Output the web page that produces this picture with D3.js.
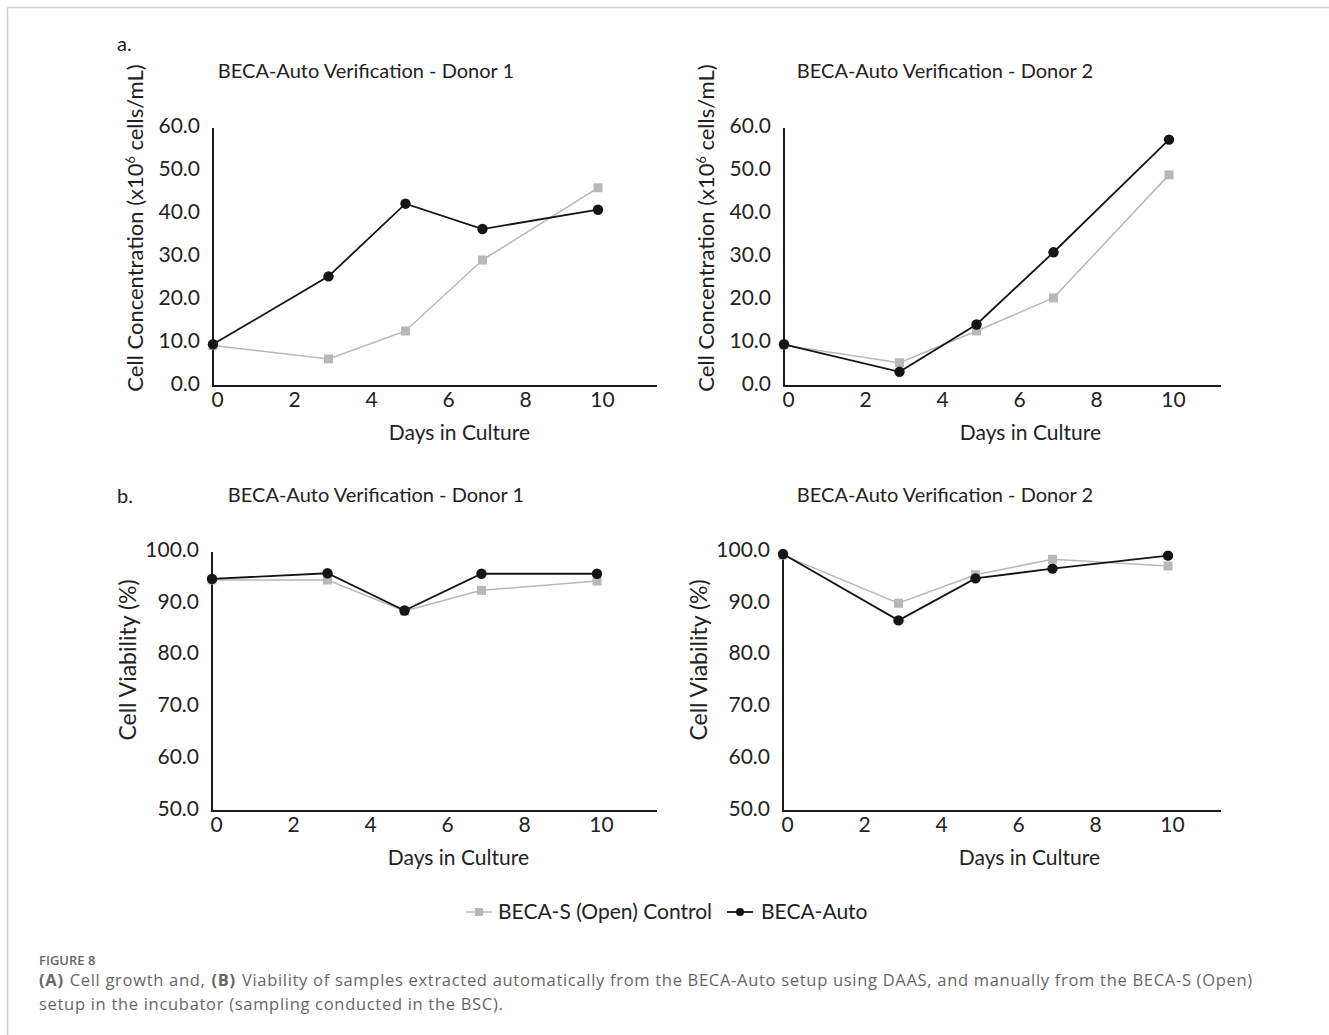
<!DOCTYPE html>
<html>
<head>
<meta charset="utf-8">
<script src="https://cdn.jsdelivr.net/npm/d3@7"></script>
<style>
  body { margin: 0; background: #fff; }
  svg { display: block; }
  text { font-family: Lato, "Open Sans", sans-serif; fill: #222; }
  .caption { font-family: "Open Sans", Lato, sans-serif; fill: #666; }
</style>
</head>
<body>
<svg width="1329" height="1035"></svg>
<script>
const days = [0, 3, 5, 7, 10];
const xTicks = [0, 2, 4, 6, 8, 10];
const concTicks = [0, 10, 20, 30, 40, 50, 60];
const viaTicks = [50, 60, 70, 80, 90, 100];

// cell concentration (x10^6 cells/mL)
const conc1Control = [9.4, 6.3, 12.8, 29.3, 46.1];
const conc1Auto = [9.7, 25.5, 42.4, 36.5, 41.0];
const conc2Control = [9.5, 5.4, 12.8, 20.5, 49.1];
const conc2Auto = [9.7, 3.3, 14.3, 31.1, 57.3];

// cell viability (%)
const via1Control = [94.6, 94.6, 88.6, 92.6, 94.4];
const via1Auto = [94.8, 95.9, 88.7, 95.8, 95.8];
const via2Control = [99.4, 90.1, 95.6, 98.6, 97.3];
const via2Auto = [99.6, 86.8, 94.9, 96.8, 99.3];

const seriesNames = ["BECA-S (Open) Control", "BECA-Auto"];
const grey = "#b8b8b8", black = "#151515";

const svg = d3.select("svg");

// frame lines (top and left)
svg.append("line").attr("x1", 7.5).attr("x2", 1329).attr("y1", 7.5).attr("y2", 7.5)
    .attr("stroke", "#d0d0d0").attr("stroke-width", 1.5);
svg.append("line").attr("x1", 7.5).attr("x2", 7.5).attr("y1", 7.5).attr("y2", 1035)
    .attr("stroke", "#d0d0d0").attr("stroke-width", 1.5);

function drawPanel(p) {
    const x = d3.scaleLinear().domain([0, 10]).range([p.left, p.left + 385]);
    const y = d3.scaleLinear().domain(p.domain).range([p.bottom, p.top]);
    const g = svg.append("g");

    g.append("text")
        .attr("x", p.titleX).attr("y", p.top - 50)
        .attr("text-anchor", "middle")
        .attr("font-size", 20)
        .text("BECA-Auto Verification - Donor " + p.donor);

    // y tick labels
    const yAxis = g.append("g")
        .attr("transform", `translate(${p.left - 1},0)`)
        .call(d3.axisLeft(y).tickValues(p.ticks).tickFormat(d3.format(".1f")).tickSize(0).tickPadding(12));
    yAxis.select(".domain").remove();
    yAxis.selectAll("text").attr("font-size", 21).attr("dy", "0.2em")
        .style("font-family", "Lato, sans-serif").attr("fill", "#222");

    const xAxis = g.append("g")
        .attr("transform", `translate(4,${p.bottom})`)
        .call(d3.axisBottom(x).tickValues(xTicks).tickSize(0).tickPadding(6));
    xAxis.select(".domain").remove();
    xAxis.selectAll("text").attr("font-size", 21)
        .style("font-family", "Lato, sans-serif").attr("fill", "#222");

    // axis lines
    g.append("line").attr("x1", p.left).attr("x2", p.left).attr("y1", p.top).attr("y2", p.bottom)
        .attr("stroke", "#1a1a1a").attr("stroke-width", 2);
    g.append("line").attr("x1", p.left - 1).attr("x2", p.right).attr("y1", p.bottom).attr("y2", p.bottom)
        .attr("stroke", "#1a1a1a").attr("stroke-width", 2);

    g.append("text")
        .attr("x", x(6.4)).attr("y", p.bottom + 54)
        .attr("text-anchor", "middle").attr("font-size", 21)
        .text("Days in Culture");

    if (p.ylabel) {
        g.append("text")
            .attr("transform", `translate(${p.ylabelX},${p.ylabelY}) rotate(-90)`)
            .attr("text-anchor", "middle").attr("font-size", 23)
            .text(p.ylabel);
    }

    const line = d3.line().x((d, i) => x(days[i])).y(d => y(d));

    g.append("path").datum(p.control).attr("d", line)
        .attr("fill", "none").attr("stroke", grey).attr("stroke-width", 1.5);
    g.selectAll(".sq").data(p.control).enter().append("rect")
        .attr("x", (d, i) => x(days[i]) - 4.5).attr("y", d => y(d) - 4.5)
        .attr("width", 9).attr("height", 9).attr("fill", grey);

    g.append("path").datum(p.auto).attr("d", line)
        .attr("fill", "none").attr("stroke", black).attr("stroke-width", 1.8);
    g.selectAll(".dot").data(p.auto).enter().append("circle")
        .attr("cx", (d, i) => x(days[i])).attr("cy", d => y(d))
        .attr("r", 5.2).attr("fill", black);
}

drawPanel({ donor: 1, left: 213, top: 128, bottom: 386, right: 657, titleX: 366,
    domain: [0, 60], ticks: concTicks, control: conc1Control, auto: conc1Auto });
drawPanel({ donor: 2, left: 784, top: 128, bottom: 386, right: 1221, titleX: 945,
    domain: [0, 60], ticks: concTicks, control: conc2Control, auto: conc2Auto });
drawPanel({ donor: 1, left: 212, top: 552, bottom: 811, right: 657, titleX: 376,
    domain: [50, 100], ticks: viaTicks, control: via1Control, auto: via1Auto,
    ylabel: "Cell Viability (%)", ylabelX: 136, ylabelY: 660 });
drawPanel({ donor: 2, left: 783, top: 552, bottom: 811, right: 1221, titleX: 945,
    domain: [50, 100], ticks: viaTicks, control: via2Control, auto: via2Auto,
    ylabel: "Cell Viability (%)", ylabelX: 707, ylabelY: 660 });

// concentration labels with superscript
[[143, 228], [714, 228]].forEach(([lx, ly]) => {
    const t = svg.append("text")
        .attr("transform", `translate(${lx},${ly}) rotate(-90)`)
        .attr("text-anchor", "middle").attr("font-size", 22);
    t.append("tspan").text("Cell Concentration (x10");
    t.append("tspan").attr("font-size", 12.5).attr("dy", -8).text("6");
    t.append("tspan").attr("dy", 8).text(" cells/mL)");
});

svg.append("text").attr("x", 117).attr("y", 51).attr("font-size", 20).text("a.");
svg.append("text").attr("x", 117).attr("y", 503).attr("font-size", 20).text("b.");

// legend
const lg = svg.append("g").attr("transform", "translate(0,912)");
lg.append("line").attr("x1", 466).attr("x2", 492).attr("stroke", grey).attr("stroke-width", 1.5);
lg.append("rect").attr("x", 475).attr("y", -4).attr("width", 8).attr("height", 8).attr("fill", grey);
lg.append("text").attr("x", 498).attr("y", 7).attr("font-size", 21).text(seriesNames[0]);
lg.append("line").attr("x1", 727).attr("x2", 753).attr("stroke", black).attr("stroke-width", 1.8);
lg.append("circle").attr("cx", 740).attr("cy", 0).attr("r", 4).attr("fill", black);
lg.append("text").attr("x", 761).attr("y", 7).attr("font-size", 21).text(seriesNames[1]);

// caption
svg.append("text").attr("class", "caption").attr("x", 39).attr("y", 965)
    .attr("font-size", 13).attr("font-weight", 600).text("FIGURE 8");

const captionParts = [
    ["(A)", true],
    ["Cell growth and,", false],
    ["(B)", true],
    ["Viability of samples extracted automatically from the BECA-Auto setup using DAAS, and manually from the BECA-S (Open)", false]
];
let cx = 39;
captionParts.forEach(([txt, bold]) => {
    const t = svg.append("text").attr("class", "caption")
        .attr("x", cx).attr("y", 986)
        .attr("font-size", 16.5).attr("letter-spacing", 0.7)
        .attr("font-weight", bold ? 700 : 400)
        .text(txt);
    if (bold) t.attr("fill", "#444");
    cx += t.node().getBBox().width + 6;
});
svg.append("text").attr("class", "caption").attr("x", 39).attr("y", 1010)
    .attr("font-size", 16.5).attr("letter-spacing", 0.7)
    .text("setup in the incubator (sampling conducted in the BSC).");
</script>
</body>
</html>
